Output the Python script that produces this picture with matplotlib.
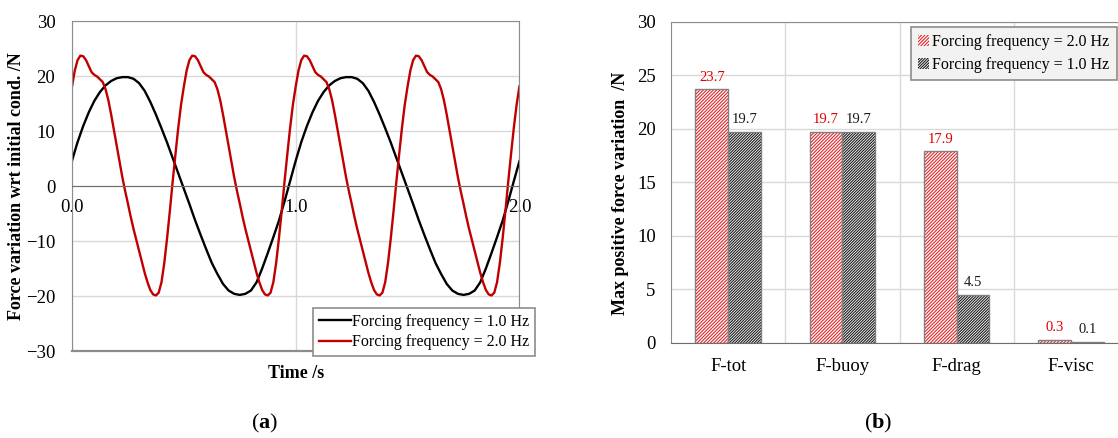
import numpy as np
import matplotlib
matplotlib.use("Agg")
import matplotlib.pyplot as plt

plt.rcParams['font.family'] = ['Liberation Serif', 'DejaVu Serif']
plt.rcParams['mathtext.fontset'] = 'custom'
plt.rcParams['mathtext.rm'] = 'Liberation Serif'
plt.rcParams['mathtext.bf'] = 'Liberation Serif:bold'
plt.rcParams['hatch.linewidth'] = 0.8

# ---- panel (a): force variation time histories ----
# 1.0 Hz forcing, sampled every 0.025 s from 0 to 2 s
t_1hz = np.linspace(0, 2, 81)
f_1hz = [4.6, 8.0, 10.9, 13.4, 15.5, 17.1, 18.3, 19.1, 19.6, 19.8,
         19.8, 19.5, 18.7, 17.3, 15.3, 13.0, 10.5, 7.9, 5.1, 2.3,
         -0.5, -3.3, -6.2, -8.9, -11.5, -14.0, -16.0, -17.8, -19.0, -19.6,
         -19.8, -19.6, -19.0, -17.5, -15.0, -12.2, -9.3, -6.3, -2.8, 0.9,
         4.6, 8.0, 10.9, 13.4, 15.5, 17.1, 18.3, 19.1, 19.6, 19.8,
         19.8, 19.5, 18.7, 17.3, 15.3, 13.0, 10.5, 7.9, 5.1, 2.3,
         -0.5, -3.3, -6.2, -8.9, -11.5, -14.0, -16.0, -17.8, -19.0, -19.6,
         -19.8, -19.6, -19.0, -17.5, -15.0, -12.2, -9.3, -6.3, -2.8, 0.9,
         4.5]

# 2.0 Hz forcing, sampled every 0.0125 s from 0 to 2 s
t_2hz = np.linspace(0, 2, 161)
f_2hz = [18.1, 21.0, 22.9, 23.7, 23.6, 22.9, 21.8, 20.7, 20.2, 19.9,
         19.4, 18.9, 17.6, 15.6, 13.0, 10.2, 7.3, 4.4, 1.6, -0.9,
         -3.2, -5.6, -7.8, -9.8, -11.8, -13.8, -15.8, -17.5, -18.9, -19.7,
         -19.9, -19.4, -17.5, -14.0, -9.5, -4.5, 0.8, 5.8, 10.6, 14.8,
         18.1, 21.0, 22.9, 23.7, 23.6, 22.9, 21.8, 20.7, 20.2, 19.9,
         19.4, 18.9, 17.6, 15.6, 13.0, 10.2, 7.3, 4.4, 1.6, -0.9,
         -3.2, -5.6, -7.8, -9.8, -11.8, -13.8, -15.8, -17.5, -18.9, -19.7,
         -19.9, -19.4, -17.5, -14.0, -9.5, -4.5, 0.8, 5.8, 10.6, 14.8,
         18.1, 21.0, 22.9, 23.7, 23.6, 22.9, 21.8, 20.7, 20.2, 19.9,
         19.4, 18.9, 17.6, 15.6, 13.0, 10.2, 7.3, 4.4, 1.6, -0.9,
         -3.2, -5.6, -7.8, -9.8, -11.8, -13.8, -15.8, -17.5, -18.9, -19.7,
         -19.9, -19.4, -17.5, -14.0, -9.5, -4.5, 0.8, 5.8, 10.6, 14.8,
         18.1, 21.0, 22.9, 23.7, 23.6, 22.9, 21.8, 20.7, 20.2, 19.9,
         19.4, 18.9, 17.6, 15.6, 13.0, 10.2, 7.3, 4.4, 1.6, -0.9,
         -3.2, -5.6, -7.8, -9.8, -11.8, -13.8, -15.8, -17.5, -18.9, -19.7,
         -19.9, -19.4, -17.5, -14.0, -9.5, -4.5, 0.8, 5.8, 10.6, 14.8,
         18.1]

xticks_a = [0.0, 1.0, 2.0]
yticks_a = [-30, -20, -10, 0, 10, 20, 30]

# ---- panel (b): max positive force variation ----
components = ['F-tot', 'F-buoy', 'F-drag', 'F-visc']
max_2hz = [23.7, 19.7, 17.9, 0.3]
max_1hz = [19.7, 19.7, 4.5, 0.1]
yticks_b = [0, 5, 10, 15, 20, 25, 30]

frame_col = '#8c8c8c'
grid_col = '#d9d9d9'

fig = plt.figure(figsize=(11.18, 4.38), dpi=100)

# ----- (a) -----
ax1 = fig.add_axes([0.0644, 0.1986, 0.4002, 0.7534])
ax1.plot(t_1hz, f_1hz, color='black', lw=1.7, label='Forcing frequency = 1.0 Hz')
ax1.plot(t_2hz, f_2hz, color='#c00000', lw=1.7, label='Forcing frequency = 2.0 Hz')
ax1.set_xlim(0, 2)
ax1.set_ylim(-30, 30)
ax1.set_xticks(xticks_a)
ax1.set_xticklabels(['%.1f' % v for v in xticks_a])
ax1.set_yticks(yticks_a)
ax1.grid(True, color=grid_col, lw=1)
ax1.set_axisbelow(True)
for s in ['left', 'right', 'top']:
    ax1.spines[s].set_color(frame_col)
ax1.spines['bottom'].set_position(('data', 0))
ax1.spines['bottom'].set_color('#6e6e6e')
ax1.axhline(-30, color=frame_col, lw=1.6, clip_on=False, zorder=3)
ax1.tick_params(axis='both', length=0, labelsize=13.5)
ax1.tick_params(axis='x', pad=9)
ax1.tick_params(axis='y', pad=12)
ax1.set_ylabel('Force variation wrt initial cond. /N', fontsize=13, fontweight='bold')
ax1.yaxis.set_label_coords(-0.125, 0.5)
ax1.yaxis.label.set_va('center')
ax1.set_xlabel('Time /s', fontsize=13, fontweight='bold')
ax1.xaxis.set_label_coords(0.5, -0.067)
ax1.xaxis.label.set_va('center')
leg1 = ax1.legend(loc='lower right', bbox_to_anchor=(0.4785, 0.1872),
                  bbox_transform=fig.transFigure, borderaxespad=0,
                  fontsize=11.5, fancybox=False, framealpha=1,
                  edgecolor=frame_col, handlelength=2.0, handletextpad=0.1,
                  labelspacing=0.3, borderpad=0.35)
leg1.get_frame().set_linewidth(1.2)

# ----- (b) -----
ax2 = fig.add_axes([0.6002, 0.2169, 0.4088, 0.7336])
x = np.arange(len(components))
w = 0.286
b2 = ax2.bar(x - w / 2, max_2hz, w, color='white', edgecolor='#e0282e',
             hatch='//////////', lw=0, label='Forcing frequency = 2.0 Hz', zorder=2)
b1 = ax2.bar(x + w / 2, max_1hz, w, color='white', edgecolor='#1a1a1a',
             hatch='////////////', lw=0, label='Forcing frequency = 1.0 Hz', zorder=2)
ax2.bar(x - w / 2, max_2hz, w, fill=False, edgecolor='#808080', lw=1, zorder=3)
ax2.bar(x + w / 2, max_1hz, w, fill=False, edgecolor='#808080', lw=1, zorder=3)
for xi, v in zip(x, max_2hz):
    ax2.annotate('%.1f' % v, (xi - w / 2, v), xytext=(0, 4), textcoords='offset points',
                 ha='center', va='bottom', fontsize=10.5, color='#e00000')
for xi, v in zip(x, max_1hz):
    ax2.annotate('%.1f' % v, (xi + w / 2, v), xytext=(0, 4), textcoords='offset points',
                 ha='center', va='bottom', fontsize=10.5, color='#1a1a1a')
ax2.set_xlim(-0.5, 3.5)
ax2.set_ylim(0, 30)
ax2.set_xticks(x)
ax2.set_xticklabels(components)
ax2.set_xticks(x[:-1] + 0.5, minor=True)
ax2.set_yticks(yticks_b)
ax2.grid(True, axis='y', color=grid_col, lw=1)
ax2.grid(True, axis='x', which='minor', color=grid_col, lw=1)
ax2.set_axisbelow(True)
for s in ['left', 'right', 'top']:
    ax2.spines[s].set_color(frame_col)
ax2.spines['bottom'].set_color('#6e6e6e')
ax2.tick_params(axis='both', which='both', length=0, labelsize=13.5)
ax2.tick_params(axis='x', pad=11)
ax2.tick_params(axis='y', pad=11)
ax2.set_ylabel('Max positive force variation  /N', fontsize=13, fontweight='bold')
ax2.yaxis.set_label_coords(-0.11, 0.467)
ax2.yaxis.label.set_va('center')
leg2 = ax2.legend(handles=[b2, b1], loc='upper right', bbox_to_anchor=(0.999, 0.939),
                  bbox_transform=fig.transFigure, borderaxespad=0,
                  fontsize=11.5, fancybox=False, framealpha=1, facecolor='#f2f2f2',
                  edgecolor=frame_col, handlelength=0.7, handleheight=0.7,
                  handletextpad=0.2, labelspacing=0.45, borderpad=0.45)
leg2.get_frame().set_linewidth(1.2)

# captions
fig.text(0.2365, 0.032, r'($\mathbf{a}$)', ha='center', va='center', fontsize=16)
fig.text(0.7855, 0.032, r'($\mathbf{b}$)', ha='center', va='center', fontsize=16)

fig.savefig('out.png', dpi=100)
